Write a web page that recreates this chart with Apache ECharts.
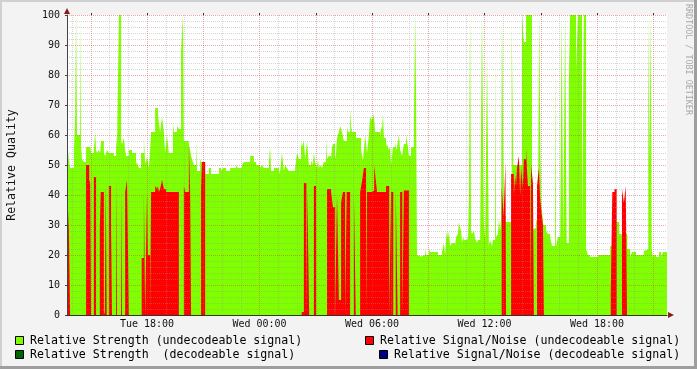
<!DOCTYPE html>
<html><head><meta charset="utf-8">
<script src="https://cdn.jsdelivr.net/npm/echarts@6/dist/echarts.min.js"></script>
<style>html,body{margin:0;padding:0;background:#f3f3f3}#c{width:697px;height:369px}</style>
</head><body><div id="c"></div><script>
// time in minutes since Tue 00:00; each value holds until the next time
const strengthT = [824,830,834,846,850,853,856,866,869,872,878,885,898,901,910,914,917,920,926,930,933,942,946,952,958,974,981,984,990,997,1000,1006,1010,1013,1022,1032,1045,1048,1054,1061,1070,1074,1077,1080,1086,1090,1093,1106,1115,1118,1122,1128,1134,1138,1144,1150,1163,1166,1176,1182,1189,1195,1198,1214,1218,1221,1224,1230,1237,1240,1250,1253,1266,1278,1285,1310,1317,1323,1333,1346,1365,1371,1384,1390,1410,1422,1429,1442,1448,
1454,1470,1474,1477,1486,1502,1506,1512,1518,1522,1528,1534,1554,1560,1566,1573,1576,1582,1586,1592,1598,1605,1611,1614,1618,1624,1627,1630,1634,1640,1646,1653,1656,1662,1669,1672,1675,1682,1685,1688,1694,1698,1704,1710,1720,1723,1730,1733,1736,1749,1765,1771,1774,1778,1784,1790,1794,1800,1806,1810,1826,1829,1832,1835,1838,1845,1848,1854,1858,1861,1867,1874,1877,1880,1886,1890,1896,1902,1909,1915,1918,1925,1934,1938,1941,1944,1950,1957,1970,1973,1982,1986,2011,2024,2030,2034,2037,2040,2043,2046,2050,2056,2066,2069,2075,2078,2082,2085,2088,2091,
2094,2104,2107,2110,2114,2117,2120,2126,2130,2136,2139,2146,2152,2158,2162,2168,2174,2178,2184,2187,2194,2197,2203,2206,2210,2213,2216,2222,2229,2247,2252,2280,2286,2293,2312,2318,2325,2331,2335,2339,2342,2348,2357,2363,2370,2376,2386,2389,2392,2395,2402,2407,2412,2418,2423,2430,2434,2453,2459,2472,2478,2485,2491,2498,2523,2562,2569,2591,2617,2626,2632,2645,2670,2677,2684,2688,2692,2695,2699,2702,2709,2718,2725,2731];
const strengthV = [59,51.5,49,55,66,100,60,100,56,52,51,56,57,54,55,61,55,54,55,54,58,54,53,55,54,53,60,56,100,58,57,59,55,53,55,54,50,51,49,54,59,50.5,50,52.5,49,55,61,69,67,64,61,66,61,54,60,54,64,61,63,62,88,100,58,57,55,53,52,50,58,48,52,51,47,49,47,49,48,49,48,49,50,49,50,51,53,51,50,49,50,
49,51,56,48,49,47,48,54,48,50,49,48,49,54,52,58,56,58,52,58,50,51.5,50,54,51,49,52,49,50,49,51,59,52,53,52,56,57,52,54,59,61,63,61,58,63,61,69,63,61,59,55,51.5,55,60,54,60,66,65,67,61,59,63,61.5,67,59,56,57,55,56,50,56,58,55,56,60,55,53,57,60,56,53,56,63,100,73.5,20,19.5,20,22,20,22,21,20,21,24,20,25.5,28,25.5,28,23,24,23,26,27,31,29,28,24,26,
25,26,25,38,100,28,27,28,25.5,24,25,27,100,30.7,25.5,86,23,25,23,25,86,26,27,32,28,32,100,33,31,97.5,50,100,91,100,28.5,29,31,33,100,53,37,30,28,27,26,23,86,23,24.5,26,23,100,24,100,24,78,100,81.5,100,25,100,22,20,19.3,20,23,31,27,22,19.3,21,20,21.5,22,100,52,100,22,19.3,20,19.3,21,19.3,21];
const snT = [824,830,834,885,895,898,901,910,917,929,932,942,945,948,951,958,965,968,981,984,997,1000,1010,1016,1022,1063,1070,1074,1080,1083,1090,1093,1106,1112,1115,1118,1122,1128,1134,1141,1182,1198,1202,1214,1218,1221,1253,1256,1266,
1575,1582,1590,1593,1599,1614,1621,1656,1669,1675,1682,1688,1694,1701,1707,1714,1719,1730,1742,1748,1762,1768,1774,1781,1784,1800,1807,1810,1816,1845,1855,1861,1868,1876,1882,1890,1897,1902,1918,
2215,2221,2227,2229,2245,2254,2258,2261,2264,2270,2274,2277,2283,2286,2293,2296,2299,2306,2309,2315,2318,2328,2334,2338,2341,2347,2350,2564,2569,2576,2583,2600,2606,2612,2616];
const snV = [43,28,0,50,45,44,0,46,0,29,41,0,1,43,0,43,29,0,45,0,42,0,41,45,0,19,41,0,41,20,0,41,43,42,43,41,42,45,42,41,0,43,41,57,41,0,42,51,0,
1,44,0,41,0,43,0,42,41,36,0,40,5,37.5,41,0,41,0,41,0,41,44.5,49,0,41,41.5,50,47,41,43,0,41,0,41,0,41,0,41.5,0,
43,33,51,0,47,40,46.5,43,49,53,40,49,42.5,52,55.7,48,43,0,50,44,0,43,49,39,35.5,30,0,7,41,42,0,42,37.5,43,0];
const decStrengthT = [], decStrengthV = [];
const decSnT = [], decSnV = [];
const tStart = 824, tEnd = 2744;
const labelTimes = [1080, 1440, 1800, 2160, 2520];
const labelTexts = ['Tue 18:00', 'Wed 00:00', 'Wed 06:00', 'Wed 12:00', 'Wed 18:00'];
const legendNames = ['Relative Strength (undecodeable signal)', 'Relative Strength  (decodeable signal)',
  'Relative Signal/Noise (undecodeable signal)', 'Relative Signal/Noise (decodeable signal)'];
const colors = ['#7fff00', '#006400', '#ff0000', '#00008b'];

function pairs(T, V) {
  const d = T.map((t, i) => [t, V[i]]);
  if (d.length) d.push([tEnd, V[V.length - 1]]);
  return d;
}
const hourTicks = []; for (let t = 840; t < tEnd; t += 60) if ((t - 900) % 180 !== 0) hourTicks.push(t);
const majorTicks = []; for (let t = 900; t < tEnd; t += 180) majorTicks.push(t);

const FONT = 'DejaVu Sans Mono';
const minorLine = {show: true, lineStyle: {color: 'rgba(150,150,150,0.4)', type: [1, 1], width: 1}};
const majorLine = {show: true, lineStyle: {color: 'rgba(225,60,60,0.45)', type: [1, 1], width: 1}};
const hidden = {show: false};

function areaSeries(name, T, V, color) {
  return {name, type: 'line', step: 'end', data: pairs(T, V), symbol: 'none', showSymbol: false,
    lineStyle: {width: 0}, areaStyle: {color, opacity: 1}, itemStyle: {color}, silent: true, animation: false, z: 2};
}

const chart = echarts.init(document.getElementById('c'), null, {renderer: 'canvas'});
chart.setOption({
  backgroundColor: '#f3f3f3',
  animation: false,
  grid: {left: 67, right: 30, top: 15, bottom: 54, show: true, backgroundColor: '#ffffff', borderWidth: 0,
    containLabel: false, outerBoundsMode: 'none'},
  xAxis: [
    {type: 'value', min: tStart, max: tEnd, z: 4,
      axisLine: {show: true, lineStyle: {color: '#333', width: 1}},
      axisTick: hidden, splitLine: hidden,
      axisLabel: {show: true, customValues: labelTimes, formatter: v => labelTexts[labelTimes.indexOf(v)] || '',
        fontFamily: FONT, fontSize: 10, color: '#111', margin: 4}},
    {type: 'value', min: tStart, max: tEnd, z: 3, axisLine: hidden, axisLabel: hidden,
      axisTick: {show: false, customValues: hourTicks}, splitLine: minorLine},
    {type: 'value', min: tStart, max: tEnd, z: 3, axisLine: hidden, axisLabel: hidden,
      axisTick: {show: true, customValues: majorTicks, length: 2, lineStyle: {color: '#333'}}, splitLine: majorLine}
  ],
  yAxis: [
    {type: 'value', min: 0, max: 100, interval: 10, z: 4,
      name: 'Relative Quality', nameLocation: 'middle', nameRotate: 90, nameGap: 49,
      nameTextStyle: {fontFamily: FONT, fontSize: 11.6, color: '#111'},
      axisLine: {show: true, lineStyle: {color: '#444', width: 1}},
      axisTick: {show: true, length: 2, lineStyle: {color: '#444'}},
      axisLabel: {fontFamily: FONT, fontSize: 10, color: '#111', margin: 7},
      splitLine: majorLine,
      minorTick: {show: false, splitNumber: 5},
      minorSplitLine: minorLine}
  ],
  series: [
    areaSeries(legendNames[0], strengthT, strengthV, colors[0]),
    areaSeries(legendNames[1], decStrengthT, decStrengthV, colors[1]),
    areaSeries(legendNames[2], snT, snV, colors[2]),
    areaSeries(legendNames[3], decSnT, decSnV, colors[3])
  ],
  graphic: [
    {type: 'rect', shape: {x: 0, y: 0, width: 697, height: 2}, style: {fill: '#d0d0d0'}, silent: true},
    {type: 'rect', shape: {x: 0, y: 0, width: 2, height: 369}, style: {fill: '#d0d0d0'}, silent: true},
    {type: 'rect', shape: {x: 694, y: 0, width: 3, height: 369}, style: {fill: '#9e9e9e'}, silent: true},
    {type: 'rect', shape: {x: 0, y: 366, width: 697, height: 3}, style: {fill: '#9e9e9e'}, silent: true},
    {type: 'polygon', shape: {points: [[67, 8], [64, 14], [70, 14]]}, style: {fill: '#8b1a1a'}, silent: true},
    {type: 'polygon', shape: {points: [[674, 315], [668, 312], [668, 318]]}, style: {fill: '#8b1a1a'}, silent: true},
    {type: 'text', x: 688, y: 4, rotation: -Math.PI / 2,
      style: {text: 'RRDTOOL / TOBI OETIKER', font: '8.4px "DejaVu Sans Mono"', fill: '#a8a8a8', align: 'left', verticalAlign: 'middle'}, silent: true},
    {type: 'rect', shape: {x: 15.5, y: 336.5, width: 8, height: 8}, style: {fill: colors[0], stroke: '#000', lineWidth: 1}},
    {type: 'text', x: 30, y: 341, style: {text: legendNames[0], font: '11.6px "DejaVu Sans Mono"', fill: '#000', verticalAlign: 'middle'}},
    {type: 'rect', shape: {x: 15.5, y: 350.5, width: 8, height: 8}, style: {fill: colors[1], stroke: '#000', lineWidth: 1}},
    {type: 'text', x: 30, y: 355, style: {text: legendNames[1], font: '11.6px "DejaVu Sans Mono"', fill: '#000', verticalAlign: 'middle'}},
    {type: 'rect', shape: {x: 365.5, y: 336.5, width: 8, height: 8}, style: {fill: colors[2], stroke: '#000', lineWidth: 1}},
    {type: 'text', x: 380, y: 341, style: {text: legendNames[2], font: '11.6px "DejaVu Sans Mono"', fill: '#000', verticalAlign: 'middle'}},
    {type: 'rect', shape: {x: 379.5, y: 350.5, width: 8, height: 8}, style: {fill: colors[3], stroke: '#000', lineWidth: 1}},
    {type: 'text', x: 394, y: 355, style: {text: legendNames[3], font: '11.6px "DejaVu Sans Mono"', fill: '#000', verticalAlign: 'middle'}}
  ]
});
</script></body></html>
